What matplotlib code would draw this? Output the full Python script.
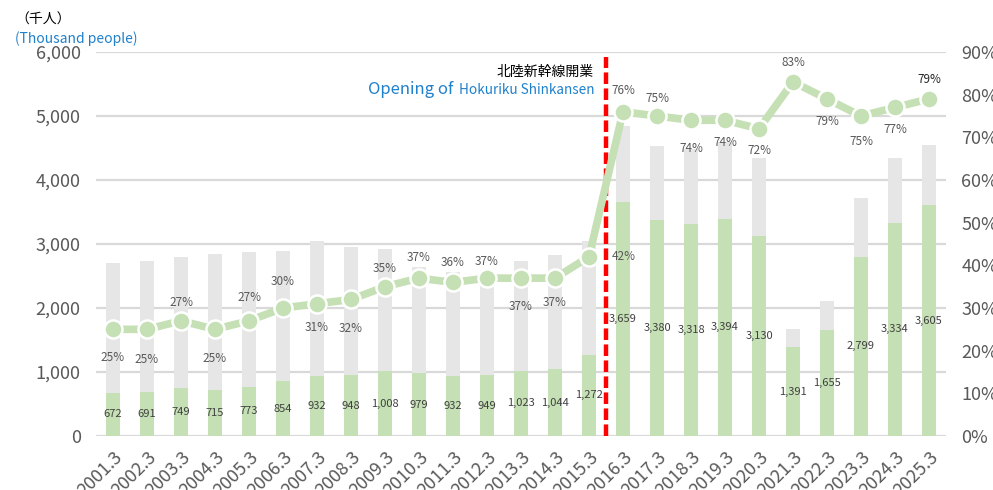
import matplotlib
matplotlib.use("Agg")
import numpy as np
import matplotlib.pyplot as plt

plt.rcParams['font.family'] = ['Noto Sans CJK JP', 'DejaVu Sans']

# 年度と利用者数（千人）
years = ["2001.3", "2002.3", "2003.3", "2004.3", "2005.3", "2006.3", "2007.3",
         "2008.3", "2009.3", "2010.3", "2011.3", "2012.3", "2013.3", "2014.3",
         "2015.3", "2016.3", "2017.3", "2018.3", "2019.3", "2020.3", "2021.3",
         "2022.3", "2023.3", "2024.3", "2025.3"]
green = [672, 691, 749, 715, 773, 854, 932, 948, 1008, 979, 932, 949, 1023,
         1044, 1272, 3659, 3380, 3318, 3394, 3130, 1391, 1655, 2799, 3334, 3605]
total = [2700, 2735, 2790, 2845, 2875, 2890, 3045, 2960, 2915, 2640, 2570,
         2555, 2740, 2830, 3045, 4850, 4530, 4490, 4590, 4345, 1675, 2110,
         3720, 4345, 4540]
share = [25, 25, 27, 25, 27, 30, 31, 32, 35, 37, 36, 37, 37, 37, 42, 76, 75,
         74, 74, 72, 83, 79, 75, 77, 79]

# 割合ラベルのずらし量（px, 正=下, None=右側）
label_dy = [28, 30, -18, 29, -23, -27, 24, 29, -18, -21, -20, -17, 28, 24,
            None, -21, -18, 28, 22, 22, -19, 23, 25, 22, -19]

c_green = "#C5E0B4"
c_gray = "#E7E6E6"
c_tick = "#595959"
c_blue = "#1F80CC"

fig = plt.figure(figsize=(9.93, 4.90), dpi=100)
ax = fig.add_axes([96 / 993, 1 - 436 / 490, 850 / 993, 384 / 490])
x = np.arange(len(years))

ax.bar(x, total, width=0.41, color=c_gray, zorder=2)
ax.bar(x, green, width=0.41, color=c_green, zorder=3)
for xi, g in zip(x, green):
    ax.text(xi, g / 2, f"{g:,}", ha="center", va="center", fontsize=8,
            color="#404040", zorder=4)

ax.set_xlim(-0.5, len(years) - 0.5)
ax.set_ylim(0, 6000)
ax.set_yticks(np.arange(0, 6001, 1000))
ax.set_yticklabels([f"{v:,}" for v in range(0, 6001, 1000)])
ax.grid(axis="y", color="#D9D9D9", lw=1.6, zorder=0)
ax.set_axisbelow(True)
for s in ax.spines.values():
    s.set_visible(False)
ax.tick_params(axis="y", length=0, labelsize=13, labelcolor=c_tick, pad=11)
ax.set_xticks(x)
ax.set_xticklabels(years, rotation=45, ha="right", rotation_mode="anchor")
ax.tick_params(axis="x", length=0, labelsize=13, labelcolor=c_tick, pad=9)

# 開業ライン
ax.vlines(14.5, 0, 5920, color="#FF0000", lw=3.2, linestyles=(0, (2.6, 1.0)),
          zorder=6)
ax.text(14.15, 5690, "北陸新幹線開業", ha="right", va="center", fontsize=10,
        color="black")
hok = ax.text(14.15, 5400, "Hokuriku Shinkansen", ha="right", va="center",
              fontsize=9.8, color=c_blue)
ax.annotate("Opening of", xy=(0, 0.5), xycoords=hok, xytext=(-4, 0.5),
            textcoords="offset points", ha="right", va="center", fontsize=12,
            color=c_blue)

ax2 = ax.twinx()
ax2.set_ylim(0, 90)
ax2.set_yticks(np.arange(0, 91, 10))
ax2.set_yticklabels([f"{v}%" for v in range(0, 91, 10)])
for s in ax2.spines.values():
    s.set_visible(False)
ax2.tick_params(axis="y", length=0, labelsize=13, labelcolor=c_tick, pad=11)
ax2.plot(x, share, color=c_green, lw=5.5, marker="o", markersize=13,
         markerfacecolor=c_green, markeredgecolor="white", markeredgewidth=1.8,
         zorder=5, solid_capstyle="round")
for i, (xi, p, dy) in enumerate(zip(x, share, label_dy)):
    col = "#262626" if i == len(share) - 1 else c_tick
    if dy is None:
        off, ha = (23, 0), "left"
    else:
        off, ha = (0, -dy), "center"
    ax2.annotate(f"{p}%", (xi, p), xytext=off, textcoords="offset pixels",
                 ha=ha, va="center", fontsize=8.5, color=col)

fig.text(15 / 993, 1 - 20 / 490, "（千人）", ha="left", va="center", fontsize=10,
         color="black")
fig.text(15 / 993, 1 - 39 / 490, "(Thousand people)", ha="left", va="center",
         fontsize=10, color=c_blue)

fig.savefig("out.png", dpi=100)
